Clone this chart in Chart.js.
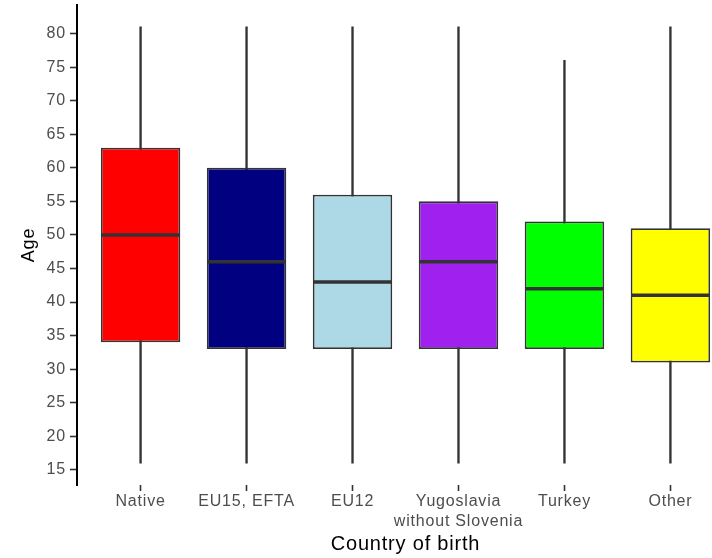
<!DOCTYPE html>
<html><head><meta charset="utf-8">
<script src="https://cdn.jsdelivr.net/npm/chart.js@4/dist/chart.umd.min.js"></script>
<style>html,body{margin:0;padding:0;background:#fff;overflow:hidden;width:712px;height:558px}canvas{display:block}</style>
</head><body>
<canvas id="c" width="734" height="558"></canvas>
<script>
const categories = ['Native', 'EU15, EFTA', 'EU12', ['Yugoslavia', 'without Slovenia'], 'Turkey', 'Other'];
const lowerWhisker = [16, 16, 16, 16, 16, 16];
const q1 = [34, 33, 33, 33, 33, 31];
const median = [50, 46, 43, 46, 42, 41];
const q3 = [63, 60, 56, 55, 52, 51];
const upperWhisker = [81, 81, 81, 81, 76, 81];
const boxColors = ['#FF0000', '#000080', '#ADD8E6', '#A020F0', '#00FF00', '#FFFF00'];
const yTickValues = [15, 20, 25, 30, 35, 40, 45, 50, 55, 60, 65, 70, 75, 80];
const yTitle = 'Age';
const xTitle = 'Country of birth';

const pos = categories.map((_, i) => i + 1);

const letterSpacingPlugin = {
  id: 'ls',
  beforeUpdate(chart) { chart.ctx.letterSpacing = '0.8px'; }
};

new Chart(document.getElementById('c'), {
  type: 'bar',
  data: {
    datasets: [
      {
        label: 'whisker',
        data: pos.map((p, i) => ({ x: p, y: [lowerWhisker[i], upperWhisker[i]] })),
        backgroundColor: '#333333',
        borderWidth: 0,
        barThickness: 1.7,
        grouped: false,
        order: 3
      },
      {
        label: 'box',
        data: pos.map((p, i) => ({ x: p, y: [q1[i], q3[i]] })),
        backgroundColor: boxColors,
        borderColor: '#333333',
        borderWidth: 1.8,
        borderSkipped: false,
        categoryPercentage: 1,
        barPercentage: 0.75,
        grouped: false,
        order: 2
      },
      {
        type: 'line',
        label: 'median',
        data: pos.map((p, i) => ({ x: p, y: median[i] })),
        showLine: false,
        pointStyle: 'line',
        pointRadius: 39,
        pointHoverRadius: 39,
        pointBorderWidth: 3.5,
        pointBorderColor: '#333333',
        pointBackgroundColor: '#333333',
        order: 1
      }
    ]
  },
  options: {
    responsive: false,
    animation: false,
    events: [],
    layout: { autoPadding: false, padding: { top: 5, left: 0, right: 0, bottom: 0 } },
    plugins: { legend: { display: false }, tooltip: { enabled: false } },
    scales: {
      x: {
        type: 'linear',
        offset: false,
        min: 0.4,
        max: 6.6,
        afterFit(s) { s.height = 73; s.paddingLeft = 0; s.paddingRight = 0; },
        afterBuildTicks(s) { s.ticks = pos.map(v => ({ value: v })); },
        border: { display: false },
        grid: { display: true, offset: false, drawOnChartArea: false, drawTicks: true, tickLength: 6, tickColor: '#333333', tickWidth: 1.6 },
        ticks: {
          padding: 1,
          color: '#4D4D4D',
          font: { family: '"Liberation Sans", Arial, sans-serif', size: 16, lineHeight: 1.25 },
          maxRotation: 0,
          autoSkip: false,
          callback(v) { return categories[Math.round(v) - 1]; }
        },
        title: {
          display: true,
          text: xTitle,
          color: '#000000',
          font: { family: '"Liberation Sans", Arial, sans-serif', size: 20, lineHeight: 1.2 },
          padding: { top: 0, bottom: 1.5 }
        }
      },
      y: {
        min: 12.75,
        max: 84.25,
        afterFit(s) { s.width = 77; s.paddingTop = 0; s.paddingBottom = 0; },
        afterBuildTicks(s) { s.ticks = yTickValues.map(v => ({ value: v })); },
        border: { display: true, color: '#000000', width: 2 },
        grid: { display: true, drawOnChartArea: false, drawTicks: true, tickLength: 7, tickColor: '#333333', tickWidth: 1.6 },
        ticks: {
          padding: 4,
          color: '#4D4D4D',
          font: { family: '"Liberation Sans", Arial, sans-serif', size: 16 }
        },
        title: {
          display: true,
          text: yTitle,
          color: '#000000',
          font: { family: '"Liberation Sans", Arial, sans-serif', size: 18, lineHeight: 1.2 },
          padding: { top: 18, bottom: 0 }
        }
      }
    }
  },
  plugins: [letterSpacingPlugin]
});
</script>
</body></html>
